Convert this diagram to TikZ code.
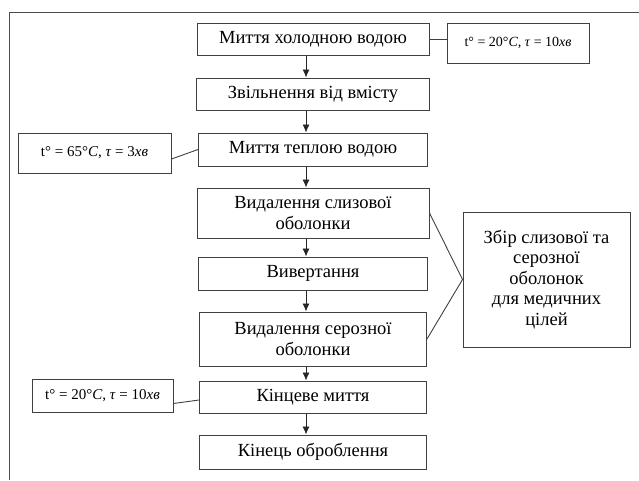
\documentclass[tikz,border=0pt]{standalone}
\usepackage{fontspec}
\setmainfont{Liberation Serif}
\usetikzlibrary{positioning,arrows.meta}
\tikzset{
  box/.style={draw=black!75, line width=1pt, minimum height=32pt, inner sep=2pt, align=center, text=black, font=\fontsize{18.5}{20.5}\selectfont},
  par/.style={box, font=\fontsize{14}{16}\selectfont},
  link/.style={draw=black!75, line width=0.9pt},
  arr/.style={link, draw=black!85, -{Latex[length=8pt,width=7pt]}},
  frame/.style={draw=black!70, line width=1pt}
}
\begin{document}
\begin{tikzpicture}[x=1pt,y=-1pt]
\useasboundingbox (0,0) rectangle (639,480);
\draw[frame] (9,480) |- (639,12);
\coordinate (ax) at (306,0);
\node[box, minimum width=232pt] (wash1) at (313,39) {Миття холодною водою};
\node[box, minimum width=233pt, below=22pt of wash1] (empty) {Звільнення від вмісту};
\node[box, minimum width=229pt, minimum height=33pt, below=22pt of empty] (wash2) {Миття теплою водою};
\node[box, minimum width=232pt, minimum height=50pt, below=21pt of wash2] (mucosa) {Видалення слизової\\оболонки};
\node[box, minimum width=229pt, minimum height=33pt, below=18pt of mucosa] (invert) {Вивертання};
\node[box, minimum width=227pt, minimum height=54pt, below=21pt of invert] (serosa) {Видалення серозної\\оболонки};
\node[box, minimum width=227pt, below=14pt of serosa] (wash3) {Кінцеве миття};
\node[box, minimum width=227pt, minimum height=34pt, below=21pt of wash3] (finish) {Кінець оброблення};
\node[par, minimum width=142pt, minimum height=40pt] (cold) at (518,43) {t° = 20°\textit{C}, \textit{τ} = 10\textit{хв}};
\node[par, minimum width=153pt, minimum height=40pt, font=\fontsize{15}{17}\selectfont] (warm) at (94.5,153) {t° = 65°\textit{C}, \textit{τ} = 3\textit{хв}};
\node[par, minimum width=141pt, minimum height=33pt, font=\fontsize{15}{17}\selectfont] (final) at (102.5,395.5) {t° = 20°\textit{C}, \textit{τ} = 10\textit{хв}};
\node[box, minimum width=167pt, minimum height=135pt] (collect) at (546.5,279.5) {Збір слизової та\\серозної\\оболонок\\для медичних\\цілей};
\foreach \a/\b in {wash1/empty, empty/wash2, wash2/mucosa, mucosa/invert, invert/serosa, serosa/wash3, wash3/finish}
  \draw[arr] (\a.south -| ax) -- (\b.north -| ax);
\draw[link] (wash1.east) -- (wash1.east -| cold.west);
\draw[link] ([yshift=-6pt]warm.east) -- (wash2.west);
\draw[link] ([yshift=-8pt]final.east) -- ([yshift=-3pt]wash3.west);
\draw[link] (mucosa.east) -- (collect.west) -- (serosa.east);
\end{tikzpicture}
\end{document}
